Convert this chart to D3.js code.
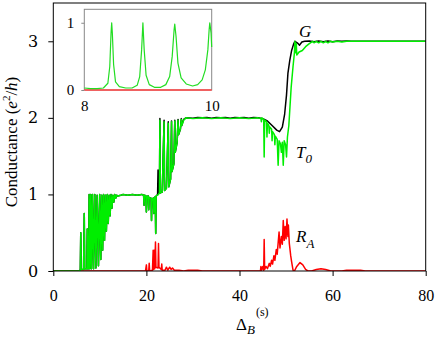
<!DOCTYPE html>
<html>
<head>
<meta charset="utf-8">
<script src="https://cdn.jsdelivr.net/npm/d3@7"></script>
<style>
  body { margin: 0; background: #fff; }
  .line { fill: none; stroke-linejoin: round; }
</style>
</head>
<body>
<svg id="chart" width="436" height="345" font-family="Times New Roman"></svg>
<script>
// main x ticks, y ticks
const xTicks = [0, 20, 40, 60, 80];
const yTicks = [0, 1, 2, 3];
const insetXTicks = [8, 10];
const insetYTicks = [0, 1];

// T0 (green) [DeltaB, conductance]
const t0Points = [
  [0, 0], [5.5, 0], [5.8, 0.01], [5.9, 0.5], [6.0, 0.02], [6.5, 0.02], [6.65, 0.75], [6.75, 0.03],
  [7.2, 0.03], [7.3, 0.55], [7.4, 0.03], [7.6, 0.03], [7.7, 1.0], [7.85, 0.03], [8.05, 1.0], [8.2, 0.03],
  [8.43, 1.0], [8.65, 0.03], [8.92, 1.0], [9.15, 0.04], [9.42, 0.99], [9.7, 0.07], [9.97, 1.0],
  [10.2, 0.15], [10.4, 0.99], [10.6, 0.27], [10.8, 1.0], [11.0, 0.4], [11.2, 0.99], [11.4, 0.52],
  [11.6, 1.0], [11.8, 0.62], [12.0, 0.99], [12.2, 0.72], [12.4, 1.0], [12.6, 0.82], [12.8, 0.99],
  [13.0, 0.9], [13.2, 1.0], [13.4, 0.95], [13.6, 0.99], [13.8, 0.98], [14.5, 0.99], [15, 1.0],
  [16, 0.99], [17, 1.0], [18, 0.99], [19, 1.0], [19.4, 0.99], [19.5, 0.86], [19.6, 0.99], [19.9, 0.98],
  [20.0, 0.77], [20.1, 0.97], [20.4, 0.98], [20.5, 0.8], [20.6, 0.96], [21.0, 0.95], [21.1, 0.66],
  [21.2, 0.94], [21.5, 0.95], [21.6, 0.75], [21.7, 0.96], [21.9, 0.97], [22.0, 0.49], [22.1, 0.98],
  [22.4, 0.99], [22.6, 1.0], [22.8, 1.02], [22.9, 1.97], [23.0, 1.02], [23.4, 1.03], [23.8, 1.95],
  [23.9, 1.05], [24.3, 1.08], [24.7, 1.93], [24.8, 1.1], [25.2, 1.2], [25.4, 1.95], [25.5, 1.3],
  [25.9, 1.4], [26.1, 1.96], [26.2, 1.55], [26.6, 1.68], [26.8, 1.97], [26.9, 1.78], [27.3, 1.85],
  [27.5, 1.98], [27.6, 1.9], [28.0, 1.97], [28.5, 2.0], [30, 1.99], [32, 2.0], [34, 1.99], [36, 2.0],
  [38, 1.99], [40, 2.0], [42, 1.99], [44, 2.0], [44.6, 1.99], [44.7, 1.95], [44.8, 2.0], [45.2, 1.98],
  [45.3, 1.49], [45.4, 1.97], [45.8, 1.95], [45.9, 1.75], [46.0, 1.93], [46.3, 1.9], [46.4, 1.8],
  [46.5, 1.88], [46.9, 1.85], [47.0, 1.7], [47.1, 1.82], [47.5, 1.78], [47.6, 1.65], [47.7, 1.76],
  [48.1, 1.72], [48.3, 1.38], [48.5, 1.7], [48.8, 1.66], [49.0, 1.55], [49.2, 1.68], [49.4, 1.38],
  [49.6, 1.7], [49.9, 1.65], [50.1, 1.49], [50.3, 1.75], [50.6, 1.9], [50.8, 2.1], [51.1, 2.4],
  [51.5, 2.67], [51.8, 2.85], [51.9, 3.0], [52.0, 2.85], [52.2, 2.97], [52.3, 2.82], [52.8, 2.86],
  [53.5, 2.88], [54.2, 2.93], [55.0, 2.97], [55.7, 3.0], [56, 2.98], [56.5, 3.0], [57, 2.98],
  [57.5, 3.0], [58, 2.98], [58.5, 3.0], [59, 2.98], [59.5, 3.0], [60, 2.99], [61, 3.0], [62, 2.99],
  [63, 3.0], [80, 3.0]
];

// G (black), where it departs from T0; below 22.4 it sits under T0
const gTail = [
  [22.4, 1.0], [22.5, 1.32], [22.6, 1.02], [22.8, 1.02], [22.9, 1.99], [23.0, 1.02], [23.4, 1.03],
  [23.8, 1.97], [23.9, 1.05], [24.3, 1.08], [24.7, 1.95], [24.8, 1.1], [25.2, 1.2], [25.4, 1.96],
  [25.5, 1.3], [25.9, 1.4], [26.1, 1.97], [26.2, 1.55], [26.6, 1.68], [26.8, 1.98], [26.9, 1.78],
  [27.3, 1.85], [27.5, 1.99], [27.6, 1.9], [28.0, 1.98], [28.5, 2.0], [30, 1.995], [31, 2.005],
  [32, 2.0], [33, 2.005], [34, 1.995], [35, 2.005], [36, 2.0], [37, 2.005], [38, 1.995], [39, 2.005],
  [40, 2.0], [41, 2.005], [42, 1.995], [43, 2.005], [44, 2.0], [45, 1.99], [46, 1.96], [47, 1.9],
  [48, 1.84], [48.6, 1.82], [49.2, 1.88], [49.7, 2.05], [50.1, 2.3], [50.4, 2.58], [50.8, 2.75],
  [51.2, 2.88], [51.6, 2.96], [51.9, 3.0], [52.4, 2.98], [52.9, 2.95], [53.4, 2.99], [54, 3.0],
  [55, 3.005], [56, 2.995], [57, 3.005], [58, 2.995], [59, 3.005], [60, 2.995], [61, 3.005],
  [62, 3.0], [63, 3.005], [64, 3.0], [80, 3.0]
];

// R_A (red)
const raPoints = [
  [0, 0], [19.8, 0], [20.0, 0.08], [20.1, 0], [20.5, 0], [20.6, 0.1], [20.7, 0], [21.3, 0.01],
  [21.45, 0.27], [21.55, 0.02], [21.7, 0.27], [21.8, 0.03], [21.95, 0.38], [22.05, 0.05], [22.5, 0.04],
  [22.6, 0.36], [22.7, 0.05], [23.2, 0.02], [23.3, 0.09], [23.4, 0.01], [24.0, 0.01], [24.3, 0.05],
  [24.6, 0.01], [25.0, 0.05], [25.3, 0.02], [25.6, 0.04], [26.0, 0.01], [27, 0.01], [28, 0],
  [29, 0.01], [31, 0.01], [32, 0], [44.5, 0], [44.6, 0.06], [44.7, 0], [45.0, 0.06], [45.2, 0.01],
  [45.3, 0.41], [45.4, 0.02], [45.7, 0.06], [46.0, 0.03], [46.4, 0.1], [46.6, 0.06], [46.9, 0.14],
  [47.1, 0.09], [47.4, 0.2], [47.6, 0.14], [47.9, 0.28], [48.1, 0.22], [48.5, 0.51], [48.7, 0.3],
  [49.0, 0.45], [49.2, 0.35], [49.4, 0.66], [49.6, 0.4], [49.8, 0.58], [50.0, 0.42], [50.2, 0.68],
  [50.4, 0.45], [50.5, 0.6], [50.7, 0.36], [51.0, 0.2], [51.2, 0.12], [51.5, 0.01], [51.8, 0],
  [52.3, 0.06], [53.0, 0.11], [53.6, 0.08], [54.2, 0.02], [54.7, 0], [55.5, 0], [56.5, 0.02],
  [57.5, 0.03], [58.5, 0.02], [59.6, 0], [62, 0], [63, 0.01], [66, 0.01], [67, 0], [80, 0]
];

// inset: T0 zoomed on 8..10
const insetT0 = [
  [8, 0.03], [8.1, 0.02], [8.2, 0.02], [8.3, 0.03], [8.37, 0.1], [8.4, 0.35], [8.42, 0.85], [8.43, 1.0],
  [8.44, 0.85], [8.46, 0.38], [8.49, 0.12], [8.55, 0.05], [8.65, 0.03], [8.75, 0.03], [8.83, 0.07],
  [8.87, 0.2], [8.9, 0.6], [8.92, 1.0], [8.94, 0.6], [8.97, 0.22], [9.02, 0.08], [9.1, 0.04],
  [9.2, 0.04], [9.28, 0.08], [9.34, 0.2], [9.38, 0.5], [9.41, 0.9], [9.42, 0.98], [9.44, 0.8],
  [9.47, 0.4], [9.52, 0.18], [9.6, 0.09], [9.7, 0.06], [9.78, 0.08], [9.85, 0.15], [9.9, 0.3],
  [9.94, 0.6], [9.96, 0.9], [9.97, 1.0], [9.99, 0.85], [10, 0.64]
];
const insetRA = [[8, 0], [10, 0]];

const svg = d3.select('#chart');

const x = d3.scaleLinear().domain([0, 80]).range([53.3, 425.7]);
const y = d3.scaleLinear().domain([0, 3.5]).range([271, 3]);

svg.append('defs').append('clipPath').attr('id', 'plot-clip')
  .append('rect')
  .attr('x', x(0)).attr('y', y(3.5))
  .attr('width', x(80) - x(0)).attr('height', y(0) - y(3.5));

const line = d3.line().x((d) => x(d[0])).y((d) => y(d[1]));

const gPoints = t0Points.filter((d) => d[0] < 22.4).concat(gTail);

const plot = svg.append('g').attr('clip-path', 'url(#plot-clip)');
plot.append('path').datum(gPoints).attr('class', 'line')
  .attr('stroke', '#000').attr('stroke-width', 1.5).attr('d', line);
plot.append('path').datum(raPoints).attr('class', 'line')
  .attr('stroke', '#ff0000').attr('stroke-width', 1.5).attr('d', line);
plot.append('path').datum(t0Points).attr('class', 'line')
  .attr('stroke', '#00ee00').attr('stroke-width', 1.5).attr('d', line);

// frame
svg.append('rect')
  .attr('x', x(0)).attr('y', y(3.5))
  .attr('width', x(80) - x(0)).attr('height', y(0) - y(3.5))
  .attr('fill', 'none').attr('stroke', '#000').attr('stroke-width', 1);

const xAxis = svg.append('g').attr('transform', `translate(0,${y(0)})`)
  .call(d3.axisBottom(x).tickValues(xTicks).tickFormat(d3.format('d'))
    .tickSize(5).tickPadding(14).tickSizeOuter(0));
const yAxis = svg.append('g').attr('transform', `translate(${x(0)},0)`)
  .call(d3.axisLeft(y).tickValues(yTicks).tickFormat(d3.format('d'))
    .tickSize(5).tickPadding(10).tickSizeOuter(0));
xAxis.attr('font-family', 'Times New Roman');
yAxis.attr('font-family', 'DejaVu Serif');
[xAxis, yAxis].forEach((a) => {
  a.attr('font-size', 16);
  a.select('.domain').remove();
  a.selectAll('text').attr('fill', '#000');
});

// inset
const ix = d3.scaleLinear().domain([8, 10]).range([84.3, 211.7]);
const iy = d3.scaleLinear().domain([0, 1.2]).range([90, 9.3]);
const iline = d3.line().x((d) => ix(d[0])).y((d) => iy(d[1]));
const inset = svg.append('g');
inset.append('rect')
  .attr('x', ix(8)).attr('y', iy(1.2))
  .attr('width', ix(10) - ix(8)).attr('height', iy(0) - iy(1.2))
  .attr('fill', '#fff').attr('stroke', '#888').attr('stroke-width', 1);
inset.append('path').datum(insetRA).attr('class', 'line')
  .attr('stroke', '#ff4040').attr('stroke-width', 1.5).attr('d', iline);
inset.append('path').datum(insetT0).attr('class', 'line')
  .attr('stroke', '#22dd22').attr('stroke-width', 1.2).attr('d', iline);
const ixAxis = inset.append('g').attr('transform', `translate(0,${iy(0)})`)
  .call(d3.axisBottom(ix).tickValues(insetXTicks).tickFormat(d3.format('d')).tickSize(0).tickPadding(10));
const iyAxis = inset.append('g').attr('transform', `translate(${ix(8)},0)`)
  .call(d3.axisLeft(iy).tickValues(insetYTicks).tickFormat(d3.format('d')).tickSize(3).tickPadding(7));
[ixAxis, iyAxis].forEach((a) => {
  a.attr('font-family', 'Liberation Serif').attr('font-size', 15);
  a.select('.domain').remove();
  a.selectAll('line').attr('stroke', '#888');
  a.selectAll('text').attr('fill', '#000');
});

// curve labels
const labels = svg.append('g').attr('font-family', 'Liberation Serif').attr('font-style', 'italic');
labels.append('text').attr('x', 299).attr('y', 36.5).attr('font-size', 17).text('G');
const t0 = labels.append('text').attr('x', 296).attr('y', 158).attr('font-size', 17);
t0.append('tspan').text('T');
t0.append('tspan').attr('dy', 5).attr('font-size', 13).text('0');
const ra = labels.append('text').attr('x', 296).attr('y', 241.5).attr('font-size', 17);
ra.append('tspan').text('R');
ra.append('tspan').attr('dy', 6).attr('font-size', 13).text('A');

// axis titles
const xt = svg.append('text').attr('x', 236).attr('y', 330).attr('font-size', 17);
xt.append('tspan').text('Δ');
xt.append('tspan').attr('dy', 4).attr('font-size', 13).attr('font-style', 'italic').text('B');
xt.append('tspan').attr('dy', -18).attr('dx', 1).attr('font-size', 12).text('(s)');

const yt = svg.append('text')
  .attr('transform', 'translate(17,142) rotate(-90)')
  .attr('text-anchor', 'middle').attr('font-size', 17).attr('font-family', 'serif');
yt.append('tspan').text('Conductance (');
yt.append('tspan').attr('font-style', 'italic').text('e');
yt.append('tspan').attr('dy', -7).attr('font-size', 11).text('2');
yt.append('tspan').attr('dy', 7).text('/');
yt.append('tspan').attr('font-style', 'italic').text('h');
yt.append('tspan').text(')');
</script>
</body>
</html>
